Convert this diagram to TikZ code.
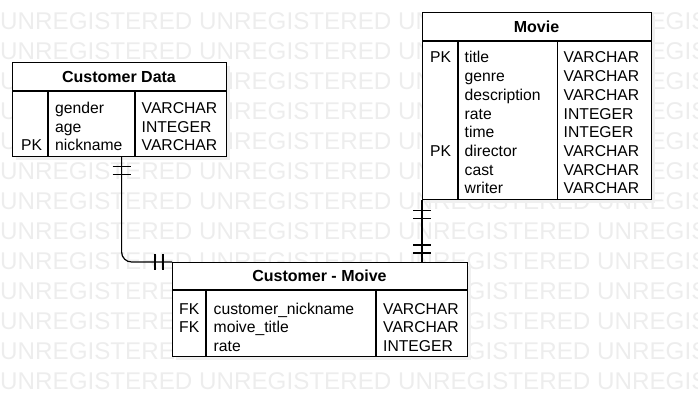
\documentclass[tikz,border=0pt]{standalone}
\usepackage{fontspec}
\setmainfont{Liberation Sans}
\begin{document}
\begin{tikzpicture}[x=1pt,y=-1pt,
 tbl/.style={draw,line width=1.2pt,fill=white,inner sep=0pt,anchor=north west},
 shd/.style={fill=black!6,inner sep=0pt,anchor=north west},
 hd/.style={font=\fontsize{16}{18}\selectfont\bfseries,inner sep=0pt},
 fld/.style={font=\fontsize{15.7}{18}\selectfont,anchor=base west,inner sep=0pt},
 wm/.style={font=\fontsize{24.2}{28}\selectfont,text=black!7,anchor=west,inner sep=0pt},
 rule/.style={line width=1.2pt},
 ]
 \useasboundingbox (0,0) rectangle (698,406);
 \clip (0,0) rectangle (698,406);
 %Wasserzeichen
 \foreach \r in {0,...,12} {
 	\node[wm] (wm\r) at (0,21+30*\r) {UNREGISTERED UNREGISTERED UNREGISTERED UNREGISTERED};
 }
 
 \node[shd,minimum width=214,minimum height=94] (custdata-s) at (16,66) {};
 \node[shd,minimum width=229,minimum height=187] (movie-s) at (426,16) {};
 \node[shd,minimum width=295,minimum height=94] (custmoive-s) at (176,266) {};
 
 \node[tbl,minimum width=214,minimum height=94] (custdata) at (12,62) {};
 \node[tbl,minimum width=229,minimum height=187] (movie) at (422,12) {};
 \node[tbl,minimum width=295,minimum height=94] (custmoive) at (172,262) {};
 
 \draw[rule] (12,91) -- (226,91) (48,91) -- (48,156) (135,91) -- (135,156);
 \draw[rule] (422,41) -- (651,41) (458,41) -- (458,199) (557.5,41) -- (557.5,199);
 \draw[rule] (172,290) -- (467,290) (206,290) -- (206,356) (376,290) -- (376,356);
 
 \node[hd] (custdata-h) at (119,76.5) {Customer Data};
 \node[hd] (movie-h) at (536.5,26.5) {Movie};
 \node[hd] (custmoive-h) at (319.5,276) {Customer - Moive};
 
 \foreach \p/\code [count=\i] in {gender/VARCHAR,age/INTEGER,nickname/VARCHAR} {
 	\node[fld] (cd-n\i) at (55,113.5+18.7*\i-18.7) {\p};
 	\node[fld] (cd-t\i) at (141.5,113.5+18.7*\i-18.7) {\code};
 }
 \node[fld] (cd-k3) at (21,150.9) {PK};
 
 \foreach \p/\code [count=\i] in {title/VARCHAR,genre/VARCHAR,description/VARCHAR,rate/INTEGER,
 	time/INTEGER,director/VARCHAR,cast/VARCHAR,writer/VARCHAR} {
 	\node[fld] (mv-n\i) at (464.5,63+18.7*\i-18.7) {\p};
 	\node[fld] (mv-t\i) at (563.5,63+18.7*\i-18.7) {\code};
 }
 \node[fld] (mv-k1) at (430,63) {PK};
 \node[fld] (mv-k6) at (430,156.5) {PK};
 
 \foreach \p/\code [count=\i] in {customer\_nickname/VARCHAR,moive\_title/VARCHAR,rate/INTEGER} {
 	\node[fld] (cm-n\i) at (213.5,314.5+18.3*\i-18.3) {\p};
 	\node[fld] (cm-t\i) at (383,314.5+18.3*\i-18.3) {\code};
 }
 \node[fld] (cm-k1) at (179,314.5) {FK};
 \node[fld] (cm-k2) at (179,332.8) {FK};
 
 %Verbindungen
 \draw[rule,rounded corners=10pt] ([xshift=2pt]custdata.south) |- (custmoive.north west);
 \draw[rule] (movie.south west) -- (movie.south west |- custmoive.north);
 \foreach \d in {9,17} {
 	\draw[rule] ([xshift=2pt,yshift=-\d pt]custdata.south) ++(-9,0) -- ++(18,0);
 	\draw[rule] ([xshift=-\d pt]custmoive.north west) ++(0,-8) -- ++(0,16);
 	\draw[rule] ([yshift=-\d pt-1pt]movie.south west) ++(-9,0) -- ++(18,0);
 	\draw[rule] ([yshift=\d pt]movie.south west |- custmoive.north) ++(-9,0) -- ++(18,0);
 }
 \end{tikzpicture}
\end{document}
